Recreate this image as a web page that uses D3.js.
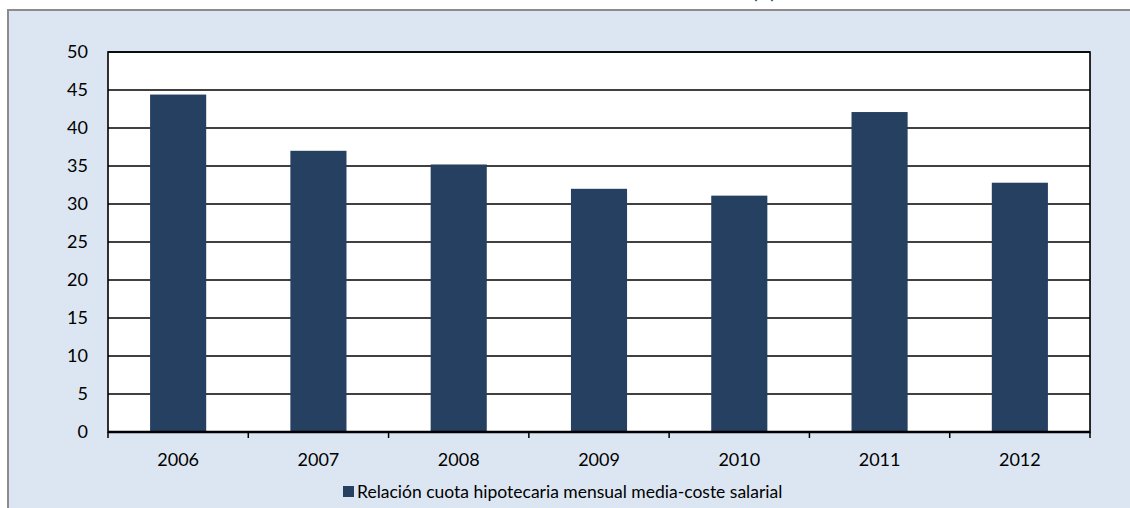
<!DOCTYPE html>
<html><head><meta charset="utf-8">
<script src="https://cdn.jsdelivr.net/npm/d3@7"></script>
<style>html,body{margin:0;padding:0;background:#fff;}svg{display:block;}</style>
</head><body>
<svg id="c" width="1130" height="508"></svg>
<script>
const years = ["2006","2007","2008","2009","2010","2011","2012"];
const values = [44.4, 37.0, 35.2, 32.0, 31.1, 42.1, 32.8];
const yTicks = [0,5,10,15,20,25,30,35,40,45,50];
const seriesName = "Relación cuota hipotecaria mensual media-coste salarial";
const titleText = "(%)";

const svg = d3.select("#c");
const W = 1130, H = 508;
const font = "Lato, 'Open Sans', sans-serif";

// panel background
svg.append("rect").attr("x",8).attr("y",10).attr("width",W-8).attr("height",H-10).attr("fill","#DCE6F2");
svg.append("line").attr("x1",7).attr("x2",W).attr("y1",10).attr("y2",10).attr("stroke","#8c8c8c").attr("stroke-width",2);
svg.append("line").attr("x1",8).attr("x2",8).attr("y1",9).attr("y2",H).attr("stroke","#8c8c8c").attr("stroke-width",2);

// clipped title (only its lower edge shows, as in the reference)
svg.append("text").attr("x",764).attr("y",-1).attr("text-anchor","middle")
  .attr("font-family",font).attr("font-size",16).attr("font-weight","bold").attr("fill","#1F497D").text(titleText);

const L = 108, R = 1090, T = 52, B = 432;
const x = d3.scaleBand().domain(years).range([L,R]).paddingInner(0.6).paddingOuter(0.3);
const y = d3.scaleLinear().domain([0,50]).range([B,T]);

// plot area
svg.append("rect").attr("x",L+1).attr("y",T+1).attr("width",R-L).attr("height",B-T).attr("fill","#7f7f7f").attr("opacity",0.5);
svg.append("rect").attr("x",L).attr("y",T).attr("width",R-L).attr("height",B-T).attr("fill","#fff");

// gridlines
svg.append("g").selectAll("line").data(yTicks.filter(d=>d>0)).join("line")
  .attr("x1",L).attr("x2",R).attr("y1",d=>y(d)).attr("y2",d=>y(d))
  .attr("stroke","#000").attr("stroke-width",1.4);

// bars
svg.append("g").selectAll("rect").data(values).join("rect")
  .attr("x",(d,i)=>x(years[i])).attr("width",x.bandwidth())
  .attr("y",d=>y(d)).attr("height",d=>B-y(d))
  .attr("fill","#254061");

// plot border
svg.append("rect").attr("x",L).attr("y",T).attr("width",R-L).attr("height",B-T)
  .attr("fill","none").attr("stroke","#000").attr("stroke-width",1.6);

// y axis labels
const yAxis = d3.axisLeft(y).tickValues(yTicks).tickSize(0).tickPadding(20);
const gy = svg.append("g").attr("transform",`translate(${L},0)`).call(yAxis);
gy.select(".domain").remove();
gy.selectAll("text").attr("font-family",font).attr("font-size",18).attr("fill","#000");

// x axis: ticks at band boundaries
const boundaries = d3.range(years.length+1).map(i=>L+i*(R-L)/years.length);
svg.append("line").attr("x1",L).attr("x2",R).attr("y1",B).attr("y2",B).attr("stroke","#000").attr("stroke-width",2.5);
svg.append("g").selectAll("line").data(boundaries).join("line")
  .attr("x1",d=>d).attr("x2",d=>d).attr("y1",B).attr("y2",B+6).attr("stroke","#000").attr("stroke-width",1.5);
const xAxis = d3.axisBottom(x).tickSize(0).tickPadding(21);
const gx = svg.append("g").attr("transform",`translate(0,${B})`).call(xAxis);
gx.select(".domain").remove();
gx.selectAll("text").attr("font-family",font).attr("font-size",18).attr("fill","#000");

// legend
const lg = svg.append("g");
lg.append("rect").attr("x",343).attr("y",486).attr("width",11).attr("height",11).attr("fill","#254061");
lg.append("text").attr("x",357).attr("y",498).attr("font-family",font).attr("font-size",17.5).attr("fill","#000").text(seriesName);
</script>
</body></html>
